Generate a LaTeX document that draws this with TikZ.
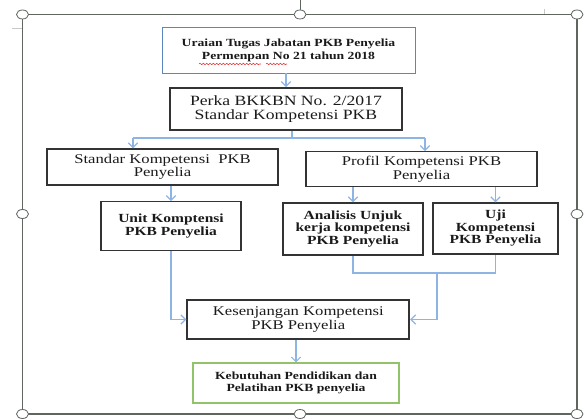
\documentclass[tikz,border=0pt]{standalone}
\usepackage{fontspec}
\setmainfont[FakeStretch=1.25]{Liberation Serif}
\usetikzlibrary{arrows.meta,decorations.pathmorphing}
\definecolor{FlowBlue}{HTML}{8EB4E3}
\definecolor{EdgeBlue}{HTML}{5B87BE}
\definecolor{EdgeDark}{HTML}{333333}
\definecolor{EdgeGreen}{HTML}{92C26A}
\definecolor{FrameGray}{HTML}{5F655F}
\definecolor{BodyText}{HTML}{1A1A1A}
\definecolor{MarkGray}{HTML}{C8C8C8}
\definecolor{SpellRed}{HTML}{E03030}

\begin{document}
\begin{tikzpicture}[x=0.75pt,y=-0.75pt,
  box/.style={draw=EdgeDark,line width=0.9pt,align=center,inner sep=0pt,
    text=BodyText,font=\fontsize{10}{10}\selectfont},
  flow/.style={draw=FlowBlue,line width=0.9pt},
  arr/.style={flow,-{Straight Barb[length=3.5pt,width=7pt]}},
  handle/.style={draw=FrameGray,fill=white,line width=0.6pt}]
  \useasboundingbox (0,0) rectangle (584,420);

  \draw[MarkGray,line width=0.5pt] (12,28) -- (22,28);
  \draw[MarkGray,line width=0.5pt] (544.5,9) -- (544.5,15);
  \draw[FrameGray,line width=0.6pt] (300,0) -- (300,14.5);
  \draw[FrameGray,line width=1.1pt] (22.5,14.5) rectangle (577,414);
  \foreach \hx/\hy in {22.5/14.5,300/14.5,577/14.5,22.5/214,577/214,22.5/414,300/414,577/414} {
    \draw[handle] (\hx,\hy) ellipse [x radius=6,y radius=4.5];
  }

  \node[box,draw=EdgeBlue,line width=0.7pt,minimum width=189.8pt,minimum height=33.8pt,
    font=\bfseries\fontsize{8.2}{10}\selectfont]
    (uraian) at (288.5,50.5) {Uraian Tugas Jabatan PKB Penyelia\\Permenpan No 21 tahun 2018};
  \node[box,line width=1.3pt,minimum width=174pt,minimum height=31.5pt,
    font=\fontsize{10.6}{10}\selectfont]
    (perka) at (286,109) {Perka BKKBN No. 2/2017\\Standar Kompetensi PKB};
  \node[box,minimum width=173.3pt,minimum height=27pt]
    (standar) at (162.5,167) {Standar Kompetensi\ \ PKB\\Penyelia};
  \node[box,minimum width=173.3pt,minimum height=26.3pt]
    (profil) at (421.5,169.3) {Profil Kompetensi PKB\\Penyelia};
  \node[box,minimum width=105pt,minimum height=36.8pt,
    font=\bfseries\fontsize{9.3}{10}\selectfont]
    (unit) at (171,226.3) {Unit Komptensi\\PKB Penyelia};
  \node[box,minimum width=105pt,minimum height=39pt,
    font=\bfseries\fontsize{9.3}{9.4}\selectfont]
    (analisis) at (353,229) {Analisis Unjuk\\kerja kompetensi\\PKB Penyelia};
  \node[box,minimum width=93.8pt,minimum height=38.3pt,
    font=\bfseries\fontsize{9.3}{9.4}\selectfont]
    (uji) at (495.5,228.5) {Uji\\Kompetensi\\PKB Penyelia};
  \node[box,line width=1.3pt,minimum width=166.5pt,minimum height=29.3pt]
    (kesenjangan) at (298.3,319.5) {Kesenjangan Kompetensi\\PKB Penyelia};
  \node[box,draw=EdgeGreen,line width=0.8pt,minimum width=154.5pt,minimum height=30pt,
    font=\bfseries\fontsize{8.2}{8.8}\selectfont]
    (kebutuhan) at (296,383) {Kebutuhan Pendidikan dan\\Pelatihan PKB penyelia};

  \draw[SpellRed,line width=0.4pt,decorate,decoration={snake,amplitude=0.6pt,segment length=2.5pt}]
    (199,64) -- (261,64);
  \draw[SpellRed,line width=0.4pt,decorate,decoration={snake,amplitude=0.6pt,segment length=2.5pt}]
    (266,64) -- (287,64);

  \coordinate (fork) at (292,138);
  \coordinate (forkL) at (133,138);
  \coordinate (forkR) at (425,138);
  \coordinate (merge) at (437,273);

  \draw[arr] (uraian.south -| perka) -- (perka);
  \draw[flow] (perka.south -| fork) -- (fork);
  \draw[flow] (forkL) -- (forkR);
  \draw[arr] (forkL) -- (forkL |- standar.north);
  \draw[arr] (forkR) -- (forkR |- profil.north);
  \draw[arr] (standar.south -| unit) -- (unit);
  \draw[arr] (profil.south -| analisis) -- (analisis);
  \draw[arr] (profil.south -| uji) -- (uji);
  \draw[flow] (analisis.south) |- (merge -| uji) -- (uji.south);
  \draw[arr] (merge) |- (kesenjangan.east);
  \draw[arr] (unit.south) |- (kesenjangan.west);
  \draw[arr] (kesenjangan.south -| kebutuhan) -- (kebutuhan);
\end{tikzpicture}
\end{document}
